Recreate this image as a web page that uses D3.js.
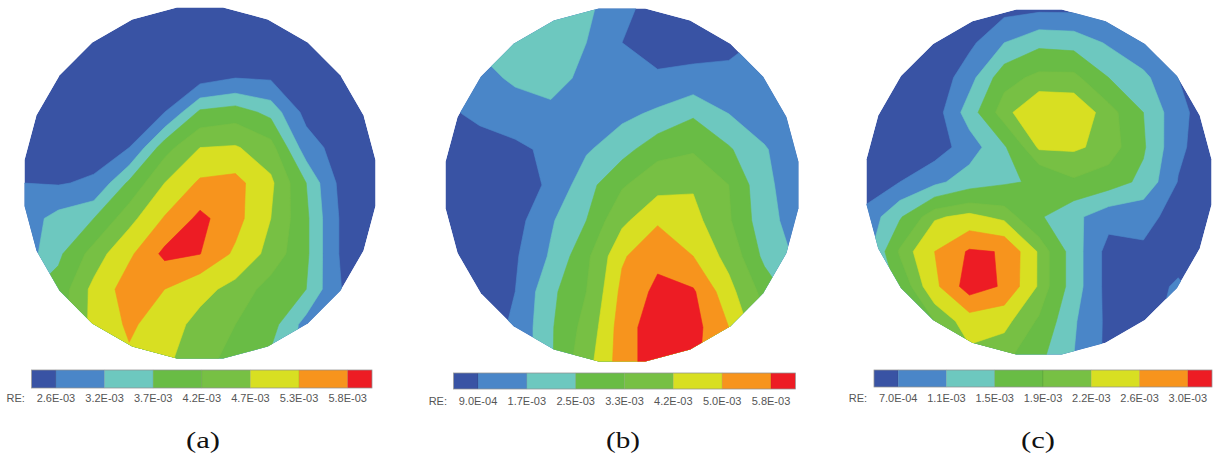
<!DOCTYPE html>
<html>
<head>
<meta charset="utf-8">
<script src="https://cdn.jsdelivr.net/npm/d3@7"></script>
<style>
  body { margin: 0; background: #fff; }
  svg { display: block; }
</style>
</head>
<body>
<script>
// band colours, lowest to highest
const colors = ["#3953a4", "#4a86c8", "#6dc8bf", "#69bc45", "#77c044", "#d8df22", "#f7941d", "#ed1c24"];

// values in units of 1E-03, 11 x 11 samples across each disc (rows top -> bottom)
const thresholdsA = [2.6, 3.2, 3.7, 4.2, 4.7, 5.3, 5.8];
const labelsA = ["2.6E-03", "3.2E-03", "3.7E-03", "4.2E-03", "4.7E-03", "5.3E-03", "5.8E-03"];
const gridA = [
    [2.0, 2.0, 2.0, 2.0, 2.0, 2.0, 2.0, 2.0, 2.0, 2.0, 2.0],
    [2.0, 2.0, 2.0, 2.0, 2.0, 2.0, 2.0, 2.0, 2.0, 2.0, 2.0],
    [2.0, 2.0, 2.0, 2.0, 2.1, 2.3, 2.55, 2.5, 2.2, 2.0, 2.0],
    [2.0, 2.0, 2.0, 2.3, 2.6, 3.8, 3.95, 3.55, 2.4, 2.0, 2.0],
    [2.2, 2.2, 2.3, 2.6, 4.0, 4.7, 4.75, 4.4, 2.9, 2.3, 2.0],
    [2.6, 2.55, 2.7, 3.8, 4.7, 5.4, 5.5, 4.8, 3.7, 2.4, 2.0],
    [2.9, 3.4, 3.7, 4.5, 5.35, 5.92, 5.5, 4.7, 3.8, 2.5, 2.0],
    [2.9, 3.6, 4.4, 5.2, 5.92, 5.81, 5.2, 4.5, 3.8, 2.5, 2.0],
    [3.6, 3.9, 4.85, 5.6, 5.3, 4.9, 4.5, 4.0, 3.7, 2.6, 2.2],
    [3.8, 4.0, 4.85, 5.4, 5.0, 4.5, 4.2, 3.9, 3.0, 2.6, 2.4],
    [3.8, 4.0, 4.7, 5.2, 4.8, 4.4, 4.0, 3.6, 3.0, 2.6, 2.4]
];

const thresholdsB = [0.9, 1.7, 2.5, 3.3, 4.2, 5.0, 5.8];
const labelsB = ["9.0E-04", "1.7E-03", "2.5E-03", "3.3E-03", "4.2E-03", "5.0E-03", "5.8E-03"];
const gridB = [
    [1.3, 1.8, 2.1, 2.2, 1.9, 1.1, 0.6, 0.6, 0.7, 0.9, 1.1],
    [1.4, 1.8, 2.1, 2.2, 1.7, 0.9, 0.6, 0.6, 0.7, 1.0, 1.1],
    [1.0, 1.5, 1.8, 2.0, 1.5, 1.2, 1.0, 1.1, 1.1, 1.3, 1.3],
    [0.8, 1.0, 1.4, 1.5, 1.4, 1.5, 1.85, 2.4, 1.7, 1.4, 1.2],
    [0.6, 0.7, 0.7, 1.1, 1.6, 2.2, 3.0, 3.2, 2.6, 1.75, 1.3],
    [0.6, 0.5, 0.6, 1.0, 2.2, 3.2, 3.9, 4.1, 3.3, 1.9, 1.2],
    [0.6, 0.5, 0.6, 1.6, 2.5, 4.0, 4.9, 4.5, 3.4, 2.0, 1.3],
    [0.6, 0.6, 0.8, 1.8, 3.1, 4.9, 5.6, 5.0, 3.9, 2.3, 1.5],
    [0.6, 0.6, 0.9, 2.3, 3.3, 5.2, 6.0, 5.9, 4.5, 3.0, 2.0],
    [0.6, 0.6, 1.0, 2.4, 3.6, 5.4, 6.3, 6.1, 5.0, 3.5, 2.5],
    [0.6, 0.7, 1.0, 2.4, 3.9, 5.4, 6.3, 6.0, 5.0, 3.5, 2.5]
];

const thresholdsC = [0.7, 1.1, 1.5, 1.9, 2.2, 2.6, 3.0];
const labelsC = ["7.0E-04", "1.1E-03", "1.5E-03", "1.9E-03", "2.2E-03", "2.6E-03", "3.0E-03"];
const gridC = [
    [0.4, 0.4, 0.4, 0.45, 0.55, 0.6, 0.6, 0.55, 0.5, 0.45, 0.4],
    [0.4, 0.4, 0.4, 0.6, 1.1, 1.4, 1.35, 1.05, 0.75, 0.5, 0.4],
    [0.4, 0.4, 0.4, 0.95, 1.75, 2.0, 2.0, 1.5, 1.2, 0.7, 0.5],
    [0.4, 0.4, 0.5, 1.3, 2.1, 2.5, 2.45, 2.05, 1.5, 0.82, 0.45],
    [0.4, 0.4, 0.5, 0.9, 1.45, 2.25, 2.25, 2.1, 1.55, 0.78, 0.45],
    [0.5, 0.7, 1.0, 1.3, 1.45, 1.55, 1.85, 1.7, 1.4, 0.68, 0.4],
    [0.8, 1.45, 2.15, 2.3, 2.1, 1.55, 1.2, 0.85, 0.8, 0.58, 0.4],
    [0.9, 1.95, 2.6, 3.05, 2.98, 2.15, 1.3, 0.55, 0.65, 0.55, 0.45],
    [0.9, 1.6, 2.5, 3.2, 2.95, 2.15, 1.3, 0.55, 0.55, 0.75, 0.5],
    [0.9, 1.4, 1.9, 2.4, 2.3, 1.85, 1.15, 0.6, 0.6, 0.8, 0.5],
    [0.9, 1.4, 1.8, 2.1, 2.0, 1.6, 1.1, 0.6, 0.5, 0.5, 0.5]
];

const captions = ["(a)", "(b)", "(c)"];

const svg = d3.select("body").append("svg")
    .attr("width", 1215)
    .attr("height", 460);

function drawDisc(id, grid, thresholds, cx, cy, r) {
    const rows = grid.length;
    const cols = grid[0].length;

    // sample i sits at contour coordinate i + 0.5
    const x = d3.scaleLinear().domain([0.5, cols - 0.5]).range([cx - r, cx + r]);
    const y = d3.scaleLinear().domain([0.5, rows - 0.5]).range([cy - r, cy + r]);
    const path = d3.geoPath(d3.geoTransform({
        point(px, py) { this.stream.point(x(px), y(py)); }
    }));

    const bands = d3.contours()
        .size([cols, rows])
        .thresholds(thresholds)(grid.flat());

    // the mesh outline is a polygon, not a true circle
    const sides = 24;
    const outline = d3.range(sides).map(k => {
        const a = (k / sides) * 2 * Math.PI - Math.PI / 2 + Math.PI / sides;
        return [cx + r * Math.cos(a), cy + r * Math.sin(a)];
    });
    const outlinePath = "M" + outline.join("L") + "Z";

    svg.append("clipPath")
        .attr("id", "clip-" + id)
        .append("path")
        .attr("d", outlinePath);

    const g = svg.append("g").attr("clip-path", `url(#clip-${id})`);

    g.append("path")
        .attr("d", outlinePath)
        .attr("fill", colors[0]);

    g.selectAll("path.band")
        .data(bands)
        .join("path")
        .attr("class", "band")
        .attr("d", path)
        .attr("fill", (d, i) => colors[i + 1])
        .attr("stroke", (d, i) => colors[i + 1])
        .attr("stroke-width", 0.6);
}

const sans = "'Liberation Sans', Arial, sans-serif";

function drawLegend(labels, x0, x1, top, h, labelY) {
    // boundaries fall on integer positions 0..6, bar runs from -0.5 to 6.5
    const x = d3.scaleLinear().domain([-0.5, labels.length - 0.5]).range([x0, x1]);
    const g = svg.append("g");

    g.selectAll("rect")
        .data(colors)
        .join("rect")
        .attr("x", (d, i) => x(Math.max(-0.5, i - 1)))
        .attr("width", (d, i) => x(Math.min(labels.length - 0.5, i)) - x(Math.max(-0.5, i - 1)))
        .attr("y", top)
        .attr("height", h)
        .attr("fill", d => d)
        .attr("stroke", "rgba(0,0,0,0.12)")
        .attr("stroke-width", 0.6);

    g.append("rect")
        .attr("x", x0)
        .attr("y", top)
        .attr("width", x1 - x0)
        .attr("height", h)
        .attr("fill", "none")
        .attr("stroke", "#9a9a9a")
        .attr("stroke-width", 0.7);

    g.selectAll("text.tick")
        .data(labels)
        .join("text")
        .attr("class", "tick")
        .attr("x", (d, i) => x(i))
        .attr("y", labelY)
        .attr("text-anchor", "middle")
        .style("font-family", sans)
        .style("font-size", "11px")
        .attr("fill", "#555")
        .text(d => d);

    g.append("text")
        .attr("x", x(0) - 31)
        .attr("y", labelY)
        .attr("text-anchor", "end")
        .style("font-family", sans)
        .style("font-size", "11px")
        .attr("fill", "#555")
        .text("RE:");
}

drawDisc("a", gridA, thresholdsA, 200, 183, 177);
drawDisc("b", gridB, thresholdsB, 622, 185, 178);
drawDisc("c", gridC, thresholdsC, 1039, 182, 174);

drawLegend(labelsA, 31.6, 372, 370, 18, 402);
drawLegend(labelsB, 453.6, 795.4, 373, 16, 405);
drawLegend(labelsC, 874, 1212, 370, 17, 402);

svg.selectAll("text.caption")
    .data(captions)
    .join("text")
    .attr("class", "caption")
    .attr("x", (d, i) => [203, 623, 1038][i])
    .attr("y", 448)
    .attr("text-anchor", "middle")
    .style("font-family", "'Liberation Serif', 'Times New Roman', serif")
    .style("font-size", "24px")
    .attr("textLength", 34)
    .attr("lengthAdjust", "spacingAndGlyphs")
    .attr("fill", "#111")
    .text(d => d);
</script>
</body>
</html>
